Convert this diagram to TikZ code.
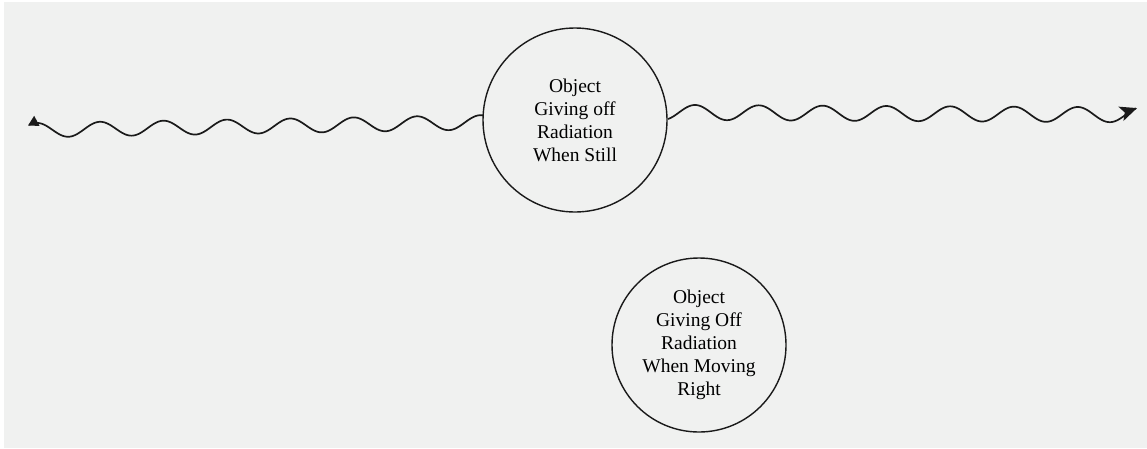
\documentclass[tikz,border=0pt]{standalone}
\usepackage{fontspec}
\setmainfont{Liberation Serif}
\usetikzlibrary{arrows.meta}
\definecolor{paper}{HTML}{F0F1F0}
\definecolor{ink}{HTML}{1A1A1A}
\tikzset{
  body/.style={circle, draw=ink, line width=1.4pt, inner sep=0pt, align=center,
    font=\fontsize{19.5}{23}\selectfont, text=black},
  ray/.style={draw=ink, line width=1.7pt, samples=400},
}
\begin{document}
\begin{tikzpicture}[x=1pt, y=-1pt]
    % 背景
    \useasboundingbox (0,0) rectangle (1147,448);
    \fill[white] (0,0) rectangle (1147,448);
    \fill[paper] (4,2) rectangle (1147,448);

    % 静止的物体
    \node[body, minimum size=184pt] (still) at (575,120) {Object\\Giving off\\Radiation\\When Still};

    % 向右运动的物体
    \node[body, minimum size=174pt] (moving) at (699,345) {Object\\Giving Off\\Radiation\\When Moving\\Right};

    % 向左的辐射
    \draw[ray, {Triangle[length=10pt,width=11pt]}-] plot[domain=28:483]
        (\x, {129-5.5*(\x-100)/317-7.2*cos(5.678*(\x-100))});

    % 向右的辐射
    \draw[ray, -{Stealth[length=17pt,width=15pt,inset=4pt]}] plot[domain=668:1137]
        (\x, {112.5+2*(\x-695)/383-7.5*cos(5.6426*(\x-695))});
\end{tikzpicture}
\end{document}
